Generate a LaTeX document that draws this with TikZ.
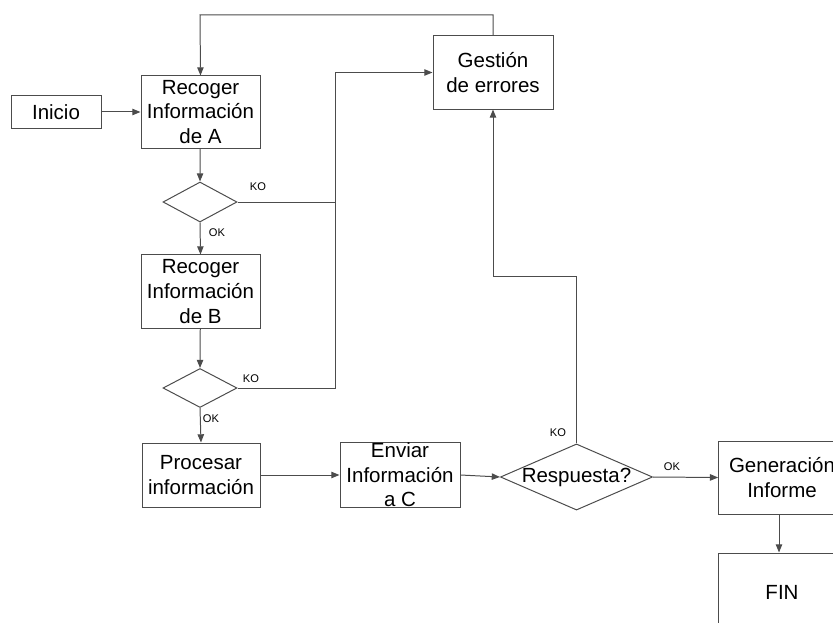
\documentclass[tikz,border=0pt]{standalone}
\usepackage{fontspec}
\setmainfont{Liberation Sans}
\usetikzlibrary{positioning,%
  arrows.meta,%
  shapes.geometric,%
  calc}

\begin{document}
\begin{tikzpicture}
                    [
                        x=0.03cm, y=-0.03cm,
                        draw=black!70, line width=0.85pt,
                        box/.style={draw, rectangle, inner sep=0pt, align=center, text=black,
                            font=\fontsize{17.5}{21}\selectfont},
                        decision/.style={draw, diamond, aspect=2.3, inner sep=0pt, text=black,
                            font=\fontsize{17.5}{21}\selectfont},
                        lbl/.style={inner sep=0pt, text=black, font=\fontsize{9.5}{11}\selectfont},
                        arr/.style={-{Triangle[length=7pt,width=5.5pt]}}
                    ]
                    
                    % Rahmen
                    \useasboundingbox (0,0) rectangle (833,623);
                    
                    % Knoten
                    \node[box, minimum width=2.7cm, minimum height=0.96cm] (inicio) at (56,112) {Inicio};
                    \node[box, minimum width=3.57cm, minimum height=2.16cm] (recA) at (200.5,112) {Recoger\\Información\\de A};
                    \node[box, minimum width=3.6cm, minimum height=2.19cm] (gest) at (493,72.5) {Gestión\\de errores};
                    \node[decision, minimum width=2.22cm, minimum height=1.2cm] (d1) at (200,202) {};
                    \node[box, minimum width=3.57cm, minimum height=2.19cm] (recB) at (200.5,291.5) {Recoger\\Información\\de B};
                    \node[decision, minimum width=2.22cm, minimum height=1.17cm] (d2) at (200,388) {};
                    \node[box, minimum width=3.54cm, minimum height=1.92cm] (proc) at (201,475) {Procesar\\información};
                    \node[box, minimum width=3.6cm, minimum height=1.92cm] (env) at (400,475) {Enviar\\Información\\a C};
                    \node[decision, minimum width=4.53cm, minimum height=1.95cm] (resp) at (576.5,477) {Respuesta?};
                    \node[box, minimum width=3.8cm, minimum height=2.19cm] (gen) at (782,477.5) {Generación\\Informe};
                    \node[box, minimum width=3.8cm, minimum height=2.34cm] (fin) at (782,592) {FIN};
                    
                    % Beschriftungen
                    \node[lbl] (ko1) at (258,187) {KO};
                    \node[lbl] (ok1) at (217,233) {OK};
                    \node[lbl] (ko2) at (251,379) {KO};
                    \node[lbl] (ok2) at (211,419) {OK};
                    \node[lbl] (ko3) at (558,433) {KO};
                    \node[lbl] (ok3) at (672,467) {OK};
                    
                    % Hilfspunkte
                    \coordinate (top) at (200,15);
                    \coordinate (bus) at (335,72.5);
                    \coordinate (back) at (493,276);
                    \coordinate (down) at (779,500);
                    
                    % Verbindungen
                    \draw[arr] (inicio) -- (recA);
                    \draw[arr] (gest.north) |- (top) -- (recA.north);
                    \draw[arr] (recA) -- (d1.north);
                    \draw (d1.east) -- (d1.east -| bus);
                    \draw[arr] (d2.east) -| (bus) -- (gest.west);
                    \draw[arr] (d1.south) -- (recB.north);
                    \draw[arr] (recB) -- (d2.north);
                    \draw[arr] (d2.south) -- (proc.north);
                    \draw[arr] (proc) -- (env);
                    \draw[arr] (env.east) -- (resp.west);
                    \draw[arr] (resp.east) -- (gen.west);
                    \draw[arr] (down |- gen.south) -- (down |- fin.north);
                    \draw[arr] (resp.north) |- (back) -- (gest.south);
\end{tikzpicture}
\end{document}
